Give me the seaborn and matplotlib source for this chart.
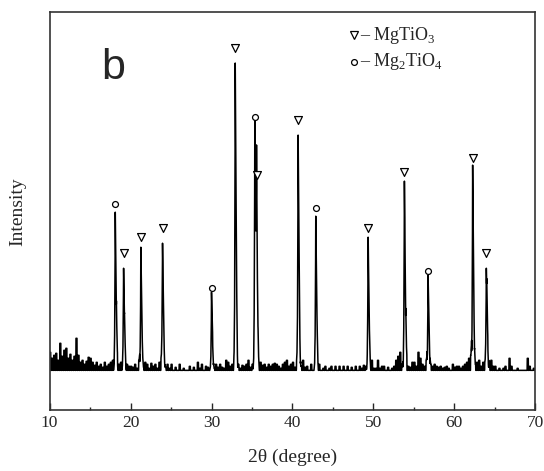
import numpy as np
import pandas as pd
import matplotlib
matplotlib.use("Agg")
import matplotlib.pyplot as plt
import seaborn as sns

# peaks: 2theta (deg), intensity (a.u.), phase
peak_pos = [18.11, 19.14, 21.27, 23.95, 30.00, 32.93, 35.35, 35.56,
            40.70, 42.88, 49.35, 53.83, 56.75, 62.26, 63.95]
peak_int = [194, 142, 158, 167, 110, 347, 281, 220,
            275, 190, 167, 223, 127, 237, 142]
peak_phase = ["Mg2TiO4", "MgTiO3", "MgTiO3", "MgTiO3", "Mg2TiO4", "MgTiO3", "Mg2TiO4", "MgTiO3",
              "MgTiO3", "Mg2TiO4", "MgTiO3", "MgTiO3", "Mg2TiO4", "MgTiO3", "MgTiO3"]

baseline = 40
# background noise above baseline, one value per 0.25 deg from 10 to 70
noise = [
    18, 12, 15, 17, 10, 27, 14, 20, 22, 12, 16, 10, 14, 32, 15, 8, 10, 6, 9, 13,   # 10-15
    12, 8, 5, 8, 4, 6, 3, 8, 4, 6, 8, 10, 4, 10, 6, 8, 3, 5, 6, 4,             # 15-20
    4, 3, 6, 2, 10, 5, 3, 8, 6, 2, 7, 4, 6, 2, 8, 10, 4, 3, 6, 2,              # 20-25
    6, 0, 3, 0, 6, 0, 2, 0, 0, 4, 0, 3, 0, 8, 2, 6, 0, 4, 3, 0,                # 25-30
    8, 2, 6, 3, 6, 3, 2, 10, 8, 4, 6, 3, 8, 6, 2, 5, 4, 6, 10, 3,              # 30-35
    6, 8, 6, 3, 8, 5, 6, 3, 6, 4, 6, 7, 6, 4, 2, 6, 8, 10, 4, 6,               # 35-40
    8, 3, 6, 8, 4, 10, 3, 4, 0, 6, 0, 4, 3, 6, 0, 2, 4, 0, 2, 4,               # 40-45
    0, 4, 0, 4, 0, 4, 0, 4, 0, 3, 0, 4, 0, 4, 2, 5, 4, 6, 2, 10,               # 45-50
    2, 2, 10, 2, 4, 4, 0, 3, 0, 2, 4, 10, 14, 18, 6, 6, 12, 4, 3, 8,           # 50-55
    8, 4, 18, 12, 6, 4, 10, 8, 6, 4, 6, 4, 3, 4, 2, 3, 4, 2, 0, 6,             # 55-60
    3, 4, 4, 2, 4, 6, 8, 12, 15, 8, 6, 8, 10, 4, 8, 6, 10, 8, 10, 4,           # 60-65
    4, 0, 2, 0, 2, 4, 0, 12, 4, 0, 0, 2, 0, 0, 0, 0, 12, 4, 0, 2,              # 65-70
    0,
]

# shape of one reflection (Ka1 spike with Ka2 shoulder), relative units
shape_dx = [-0.22, -0.14, -0.08, -0.03, 0.0, 0.04, 0.09, 0.16, 0.24, 0.32]
shape_frac = [0.0, 0.05, 0.20, 0.55, 1.0, 0.85, 0.60, 0.30, 0.08, 0.0]

two_theta = np.round(np.arange(10, 70.0001, 0.01), 2)
cell = (two_theta - 10) / 0.25 + 1e-9
idx = np.clip(np.floor(cell).astype(int), 0, len(noise) - 1)
in_box = (cell % 1) < 0.55  # noise drawn as narrow boxes, like the detector steps
intensity = baseline + np.where(in_box, np.array(noise, dtype=float)[idx], 0.0)
for p, h in zip(peak_pos, peak_int):
    intensity += (h - baseline) * np.interp(two_theta - p, shape_dx, shape_frac)

pattern = pd.DataFrame({"two_theta": two_theta, "intensity": intensity})
peaks = pd.DataFrame({"pos": peak_pos, "top": peak_int, "phase": peak_phase})

sns.set_theme(style="ticks")
plt.rcParams["font.family"] = ["Liberation Serif", "DejaVu Serif"]
plt.rcParams["mathtext.fontset"] = "custom"
plt.rcParams["mathtext.rm"] = "Liberation Serif"

fig = plt.figure(figsize=(5.44, 4.71), dpi=100)
ax = fig.add_axes([0.0912, 0.1287, 0.8928, 0.8458])

sns.lineplot(data=pattern, x="two_theta", y="intensity", color="black", lw=1.1,
             estimator=None, sort=False, ax=ax)

tri = peaks[peaks.phase == "MgTiO3"]
circ = peaks[peaks.phase == "Mg2TiO4"]
sns.scatterplot(x=tri.pos, y=tri.top + 15, marker="v", s=32, color="white",
                edgecolor="black", linewidth=0.9, ax=ax, zorder=3)
sns.scatterplot(x=circ.pos, y=circ.top + 12, marker="o", s=18, color="white",
                edgecolor="black", linewidth=0.9, ax=ax, zorder=3)

# phase key in the top right
ax.plot([0.627], [0.942], marker="v", ms=6, mfc="white", mec="black", mew=0.9,
        transform=ax.transAxes, clip_on=False)
ax.plot([0.627], [0.875], marker="o", ms=4.2, mfc="white", mec="black", mew=0.9,
        transform=ax.transAxes, clip_on=False)
ax.text(0.64, 0.942, r"– MgTiO$_\mathregular{3}$", transform=ax.transAxes,
        fontsize=13, va="center", ha="left")
ax.text(0.64, 0.875, r"– Mg$_\mathregular{2}$TiO$_\mathregular{4}$", transform=ax.transAxes,
        fontsize=13, va="center", ha="left")

ax.text(0.13, 0.86, "b", transform=ax.transAxes, fontsize=31, family="Liberation Sans",
        ha="center", va="center")

ax.set_xlim(10, 70)
ax.set_ylim(0, 398)
ax.set_xticks(range(10, 71, 10))
ax.set_xticks(range(15, 70, 10), minor=True)
ax.set_yticks([])
ax.tick_params(axis="x", which="major", direction="in", length=5, width=1, pad=3, labelsize=12.5)
ax.tick_params(axis="x", which="minor", direction="in", length=2.5, width=1)
ax.set_xlabel("2θ (degree)", fontsize=14, labelpad=13)
ax.set_ylabel("Intensity", fontsize=14, labelpad=17)
for s in ax.spines.values():
    s.set_visible(True)
    s.set_linewidth(1.2)
    s.set_color("#333333")

fig.savefig("out.png", dpi=100)
